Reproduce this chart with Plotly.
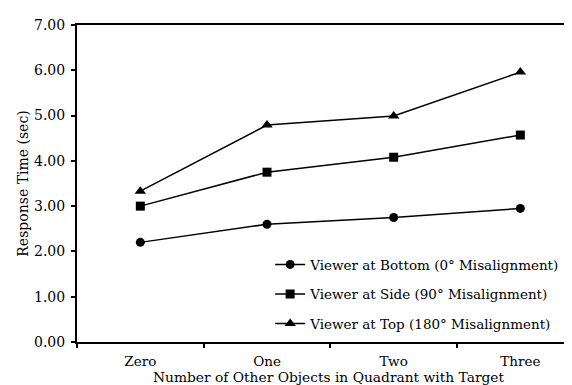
import plotly.graph_objects as go

categories = ["Zero", "One", "Two", "Three"]
bottom_vals = [2.20, 2.60, 2.75, 2.95]
side_vals = [3.00, 3.75, 4.08, 4.57]
top_vals = [3.33, 4.79, 4.99, 5.96]
series_names = [
    "Viewer at Bottom (0° Misalignment)",
    "Viewer at Side (90° Misalignment)",
    "Viewer at Top (180° Misalignment)",
]
y_ticks = [0, 1, 2, 3, 4, 5, 6, 7]
y_tick_labels = ["0.00", "1.00", "2.00", "3.00", "4.00", "5.00", "6.00", "7.00"]

FONT = "DejaVu Serif"

fig = go.Figure()
specs = [
    (bottom_vals, "circle", 9),
    (side_vals, "square", 9),
    (top_vals, "triangle-up", 10),
]
for i, ((vals, sym, sz), name) in enumerate(zip(specs, series_names)):
    fig.add_trace(go.Scatter(
        x=categories, y=vals, name=name, mode="lines+markers",
        line=dict(color="black", width=1.5),
        marker=dict(symbol=sym, size=sz, color="black"),
        legendgroup=f"g{i}",
    ))

fig.update_layout(
    width=572, height=385,
    margin=dict(l=69, r=0, t=17, b=51, autoexpand=False),
    paper_bgcolor="white", plot_bgcolor="white",
    font=dict(family=FONT, color="black", size=13.5),
    showlegend=True,
    legend=dict(
        x=0.384, y=0.151, xanchor="left", yanchor="middle",
        bgcolor="rgba(0,0,0,0)", font=dict(family=FONT, size=13.5, color="black"),
        tracegroupgap=9, traceorder="grouped",
    ),
    xaxis=dict(
        type="category", range=[-0.5, 3.471], autorange=False,
        showline=True, linecolor="black", linewidth=2, mirror=True,
        ticks="outside", ticklen=4, tickwidth=1.5, tickcolor="black",
        tickson="boundaries", showgrid=False, zeroline=False, automargin=False,
        ticklabelstandoff=6,
        tickfont=dict(family=FONT, size=13.5),
        title=dict(text="Number of Other Objects in Quadrant with Target",
                   font=dict(family=FONT, size=13.8), standoff=0),
    ),
    yaxis=dict(
        range=[0, 7], tickvals=y_ticks, ticktext=y_tick_labels, automargin=False,
        showline=True, linecolor="black", linewidth=2,
        ticks="outside", ticklen=4, tickwidth=1.5, tickcolor="black",
        showgrid=False, zeroline=False, ticklabelstandoff=3,
        tickfont=dict(family=FONT, size=14),
        title=dict(text="Response Time (sec)", font=dict(family=FONT, size=14), standoff=2),
    ),
)

fig.write_html("out.html")
